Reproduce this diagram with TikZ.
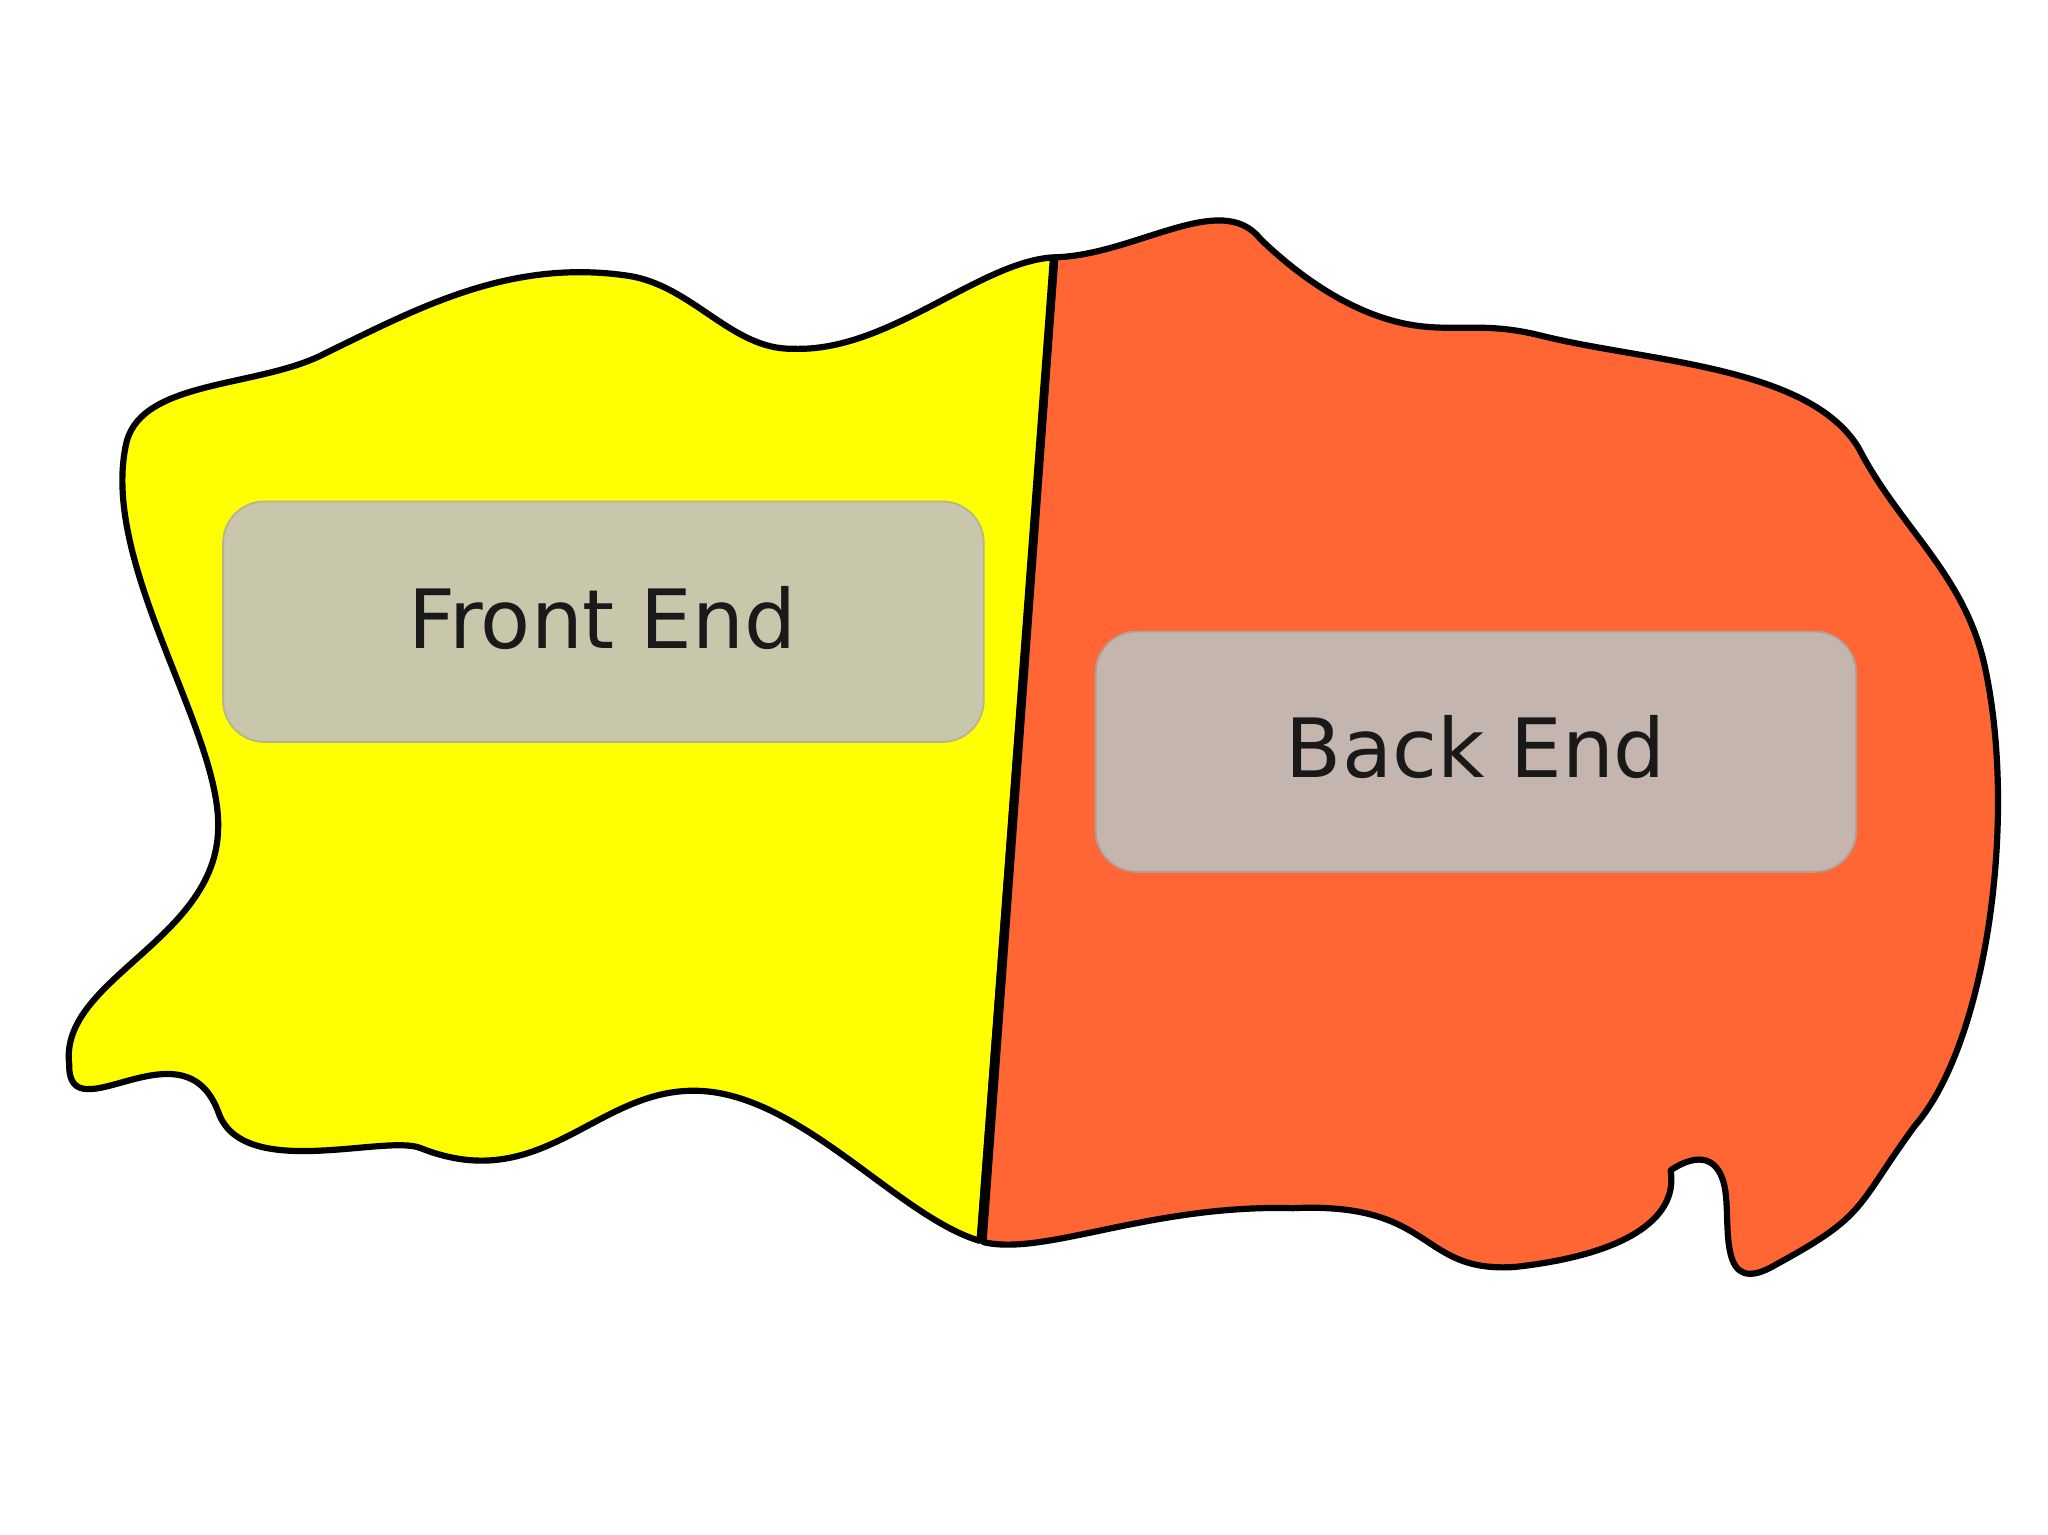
\documentclass[tikz,border=0pt]{standalone}
\usepackage{fontspec}
\setmainfont{DejaVu Sans}
\definecolor{fy}{HTML}{FFFF00}
\definecolor{fo}{HTML}{FF6633}
\definecolor{bf}{HTML}{C8C7AB}
\definecolor{bfd}{HTML}{B8B58A}
\definecolor{bb}{HTML}{C5B5AF}
\definecolor{bbd}{HTML}{B89A8E}
\begin{document}
\begin{tikzpicture}[x=0.01cm,y=-0.01cm,
  blob/.style={draw=black,line width=1.35pt,line join=round},
  panel/.style={rounded corners=9pt,line width=0.4pt,minimum width=5.82cm,minimum height=1.84cm,inner sep=0pt,font=\fontsize{17.8}{20}\selectfont,text=black!90}]
\useasboundingbox (0,0) rectangle (1568,1175);
\fill[white] (0,0) rectangle (1568,1175);
% orange region
\path[blob,fill=fo] (808,197) .. controls (870,195) and (935,145) .. (965,183)
  .. controls (995,212) and (1040,245) .. (1090,250)
  .. controls (1120,253) and (1140,247) .. (1180,257)
  .. controls (1260,277) and (1385,280) .. (1423,343)
  .. controls (1455,405) and (1505,440) .. (1520,512)
  .. controls (1545,630) and (1520,800) .. (1466,862)
  .. controls (1420,925) and (1430,930) .. (1360,968)
  .. controls (1315,995) and (1325,940) .. (1321,912)
  .. controls (1317,885) and (1300,882) .. (1279,896)
  .. controls (1285,930) and (1250,960) .. (1160,970)
  .. controls (1085,975) and (1100,920) .. (990,925)
  .. controls (880,922) and (800,962) .. (753,951) -- cycle;
% yellow region
\path[blob,fill=fy] (807,197) .. controls (750,200) and (680,270) .. (607,267)
  .. controls (560,268) and (530,218) .. (480,211)
  .. controls (390,198) and (320,236) .. (250,270)
  .. controls (200,297) and (110,290) .. (97,338)
  .. controls (75,430) and (170,560) .. (167,635)
  .. controls (165,720) and (45,750) .. (53,815)
  .. controls (52,870) and (140,780) .. (167,851)
  .. controls (185,905) and (295,868) .. (322,879)
  .. controls (420,918) and (460,825) .. (545,836)
  .. controls (620,846) and (690,932) .. (750,950) -- cycle;
\draw[line width=1.8pt] (807,197) -- (751,951);
\node[panel,fill=bf,draw=bfd] (fe) at (462,476) {};
\node[panel,fill=bb,draw=bbd] (be) at (1130,575.5) {};
\node[font=\fontsize{17.8}{20}\selectfont,text=black!90,inner sep=0pt] (fet) at (461,473) {Front End};
\node[font=\fontsize{17.8}{20}\selectfont,text=black!90,inner sep=0pt] (bet) at (1130,572) {Back End};
\end{tikzpicture}
\end{document}
